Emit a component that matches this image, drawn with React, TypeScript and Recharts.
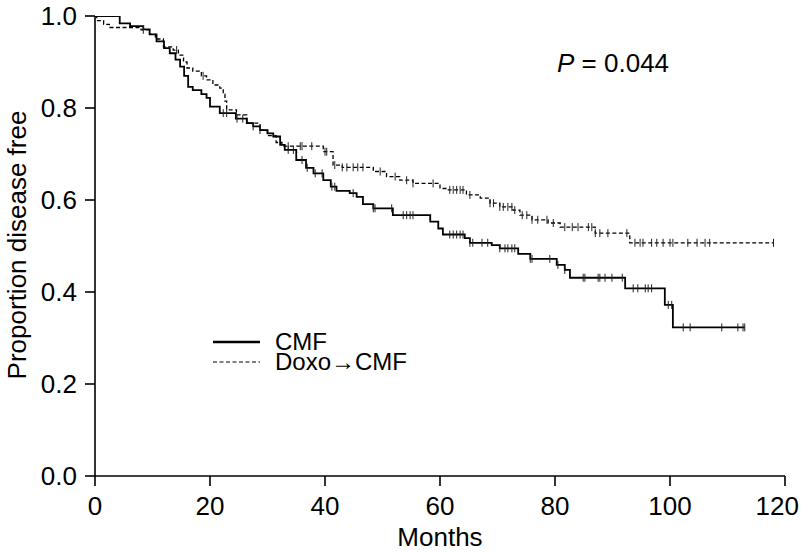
import React from 'react';
import { ComposedChart, Line, Scatter, XAxis, YAxis, Label } from 'recharts';

// CMF arm: Kaplan-Meier step points (months, proportion disease free)
const cmfTimes = [0, 4.3, 6.1, 8.4, 9.5, 10.7, 12, 13, 14, 14.8, 15.5, 16.2, 17, 18.5, 19.4, 20, 21.7, 24.5, 26.4, 27.5, 28.7, 30, 31, 32.2, 33, 35, 36.7, 38, 39.7, 41, 42, 44.3, 45.5, 46.6, 48.4, 51.8, 58.3, 59.7, 60.5, 64.3, 65.2, 69, 70.4, 73.6, 75.7, 80.3, 81.7, 82.6, 92.2, 99.1, 100.5, 113];
const cmfSurv = [1.0, 0.984, 0.978, 0.971, 0.96, 0.945, 0.93, 0.919, 0.905, 0.89, 0.87, 0.846, 0.839, 0.83, 0.822, 0.803, 0.789, 0.777, 0.767, 0.76, 0.752, 0.745, 0.738, 0.72, 0.709, 0.687, 0.67, 0.658, 0.643, 0.629, 0.62, 0.615, 0.607, 0.591, 0.582, 0.567, 0.553, 0.538, 0.525, 0.517, 0.507, 0.502, 0.495, 0.483, 0.472, 0.459, 0.448, 0.431, 0.408, 0.372, 0.323, 0.323];
const cmfCensor = [22.3, 22.9, 24.7, 25.7, 27.5, 28.7, 33.6, 34.5, 36, 36.9, 38.3, 39.5, 41.2, 41.7, 44.9, 48.4, 48.7, 51.6, 53.6, 54.2, 54.8, 55.3, 61.7, 62.3, 62.9, 63.5, 64, 65.2, 65.7, 67.3, 68.3, 70.4, 71.3, 71.8, 72.5, 73, 75.7, 76, 79.1, 80.5, 81.7, 84.9, 85.2, 87.5, 87.8, 88.7, 89.9, 91.7, 93.6, 94.4, 95.7, 96.2, 96.8, 99.7, 100.3, 102.3, 103.5, 109, 111.8, 112.7, 113];

// Doxo -> CMF arm
const doxoTimes = [0, 0.3, 1.5, 2.5, 8, 9.5, 10.5, 11.9, 13.6, 14.5, 15.4, 16, 17, 18.5, 19.4, 20.5, 21.7, 22.3, 22.6, 22.9, 24.6, 26.4, 28.7, 30, 31.5, 32.5, 39.7, 41.4, 43, 48.4, 50.7, 53, 55.3, 60, 61.2, 64.6, 67, 68.7, 70.4, 72.7, 73.9, 76, 78.8, 80.9, 87, 93, 118];
const doxoSurv = [1.0, 0.99, 0.982, 0.975, 0.97, 0.96, 0.95, 0.933, 0.926, 0.915, 0.9, 0.887, 0.88, 0.87, 0.861, 0.85, 0.843, 0.83, 0.815, 0.796, 0.785, 0.767, 0.752, 0.74, 0.725, 0.717, 0.705, 0.676, 0.671, 0.662, 0.651, 0.643, 0.636, 0.625, 0.622, 0.611, 0.604, 0.593, 0.585, 0.578, 0.567, 0.557, 0.55, 0.541, 0.528, 0.507, 0.507];
const doxoCensor = [8.4, 14.2, 18.8, 33.6, 35.7, 36, 37.7, 40, 40.3, 41.7, 43, 43.8, 44.9, 45.7, 46.6, 49.6, 52.2, 54.2, 55.3, 58.8, 61.7, 62.3, 62.9, 63.5, 64, 65.2, 68.7, 69.3, 70.4, 71, 71.8, 72.5, 73, 74.3, 75.1, 76, 77, 78.6, 79.7, 81.7, 83, 84, 85.8, 86.4, 87, 87.8, 89.2, 92.5, 93.9, 94.8, 95.3, 96.8, 97.7, 98.8, 100, 100.5, 103.1, 104.7, 106.1, 106.9, 118];

const seriesNames = ['CMF', 'Doxo\u2192CMF'];
const xTicks = [0, 20, 40, 60, 80, 100, 120];
const yTicks = [0, 0.2, 0.4, 0.6, 0.8, 1.0];
const pValueText = '0.044';

const FONT = '"Liberation Sans", Arial, Helvetica, sans-serif';

const toSteps = (times: number[], surv: number[]) => times.map((t, i) => ({ t, s: surv[i] }));
const survAt = (times: number[], surv: number[], t: number) => {
  let s = surv[0];
  for (let i = 0; i < times.length; i++) {
    if (times[i] <= t) s = surv[i];
  }
  return s;
};
const toCensor = (times: number[], surv: number[], c: number[]) =>
  c.map((t) => ({ t, s: survAt(times, surv, t) }));

const cmfData = toSteps(cmfTimes, cmfSurv);
const doxoData = toSteps(doxoTimes, doxoSurv);
const cmfCensorData = toCensor(cmfTimes, cmfSurv, cmfCensor);
const doxoCensorData = toCensor(doxoTimes, doxoSurv, doxoCensor);

const CensorTick = (props: any) => {
  const { cx, cy } = props;
  if (cx == null || cy == null) return null;
  return <line x1={cx} x2={cx} y1={cy - 4} y2={cy + 4} stroke="#222" strokeWidth={1} />;
};

const XTick = (props: any) => {
  const { x, y, payload } = props;
  const last = payload.value === xTicks[xTicks.length - 1];
  return (
    <text
      x={last ? x + 14 : x}
      y={y}
      dy="0.71em"
      textAnchor={last ? 'end' : 'middle'}
      fontSize={26}
      fontFamily={FONT}
      fill="#000"
    >
      {payload.value}
    </text>
  );
};

const LegendBox = () => (
  <div
    style={{
      position: 'absolute',
      left: 213,
      top: 332,
      fontFamily: FONT,
      fontSize: 24,
      color: '#000',
      lineHeight: '20px',
    }}
  >
    {seriesNames.map((name, i) => (
      <div key={name} style={{ display: 'flex', alignItems: 'center', height: 20, overflow: 'visible' }}>
        <svg width={50} height={20} style={{ display: 'block' }}>
          <line
            x1={0}
            x2={47}
            y1={10}
            y2={10}
            stroke="#000"
            strokeWidth={i === 0 ? 2.5 : 1.2}
            strokeDasharray={i === 0 ? undefined : '4 2.5'}
          />
        </svg>
        <span style={{ marginLeft: 12, display: 'inline-block', height: 20, lineHeight: '20px', whiteSpace: 'nowrap' }}>
          {name}
        </span>
      </div>
    ))}
  </div>
);

export default function App() {
  return (
    <div style={{ position: 'absolute', left: 0, top: 0, width: 802, height: 552, background: '#fff' }}>
      <ComposedChart width={802} height={552} margin={{ top: 16, right: 17, bottom: 0, left: 0 }}>
        <XAxis
          type="number"
          dataKey="t"
          domain={[0, 120]}
          ticks={xTicks}
          allowDataOverflow
          height={76}
          tickSize={10}
          tickMargin={11}
          axisLine={{ stroke: '#000', strokeWidth: 1.6 }}
          tickLine={{ stroke: '#000', strokeWidth: 1.6 }}
          tick={<XTick />}
        >
          <Label
            content={() => (
              <text x={440} y={546} textAnchor="middle" fontSize={26} fontFamily={FONT} fill="#000">
                Months
              </text>
            )}
          />
          <Label
            content={() => (
              <text x={557} y={72} fontSize={26} fontFamily={FONT} fill="#000">
                <tspan fontStyle="italic">P</tspan> = {pValueText}
              </text>
            )}
          />
        </XAxis>
        <YAxis
          type="number"
          dataKey="s"
          domain={[0, 1]}
          ticks={yTicks}
          allowDataOverflow
          width={95}
          tickSize={10}
          tickMargin={8}
          tickFormatter={(v: number) => v.toFixed(1)}
          axisLine={{ stroke: '#000', strokeWidth: 1.6 }}
          tickLine={{ stroke: '#000', strokeWidth: 1.6 }}
          tick={{ fill: '#000', fontSize: 26, fontFamily: FONT }}
        >
          <Label
            content={() => (
              <text
                x={0}
                y={0}
                transform="translate(26,245) rotate(-90)"
                textAnchor="middle"
                fontSize={26}
                fontFamily={FONT}
                fill="#000"
              >
                Proportion disease free
              </text>
            )}
          />
        </YAxis>
        <Line
          data={doxoData}
          dataKey="s"
          type="stepAfter"
          stroke="#000"
          strokeWidth={1.3}
          strokeDasharray="4 2.5"
          dot={false}
          activeDot={false}
          isAnimationActive={false}
          name={seriesNames[1]}
        />
        <Line
          data={cmfData}
          dataKey="s"
          type="stepAfter"
          stroke="#000"
          strokeWidth={1.8}
          dot={false}
          activeDot={false}
          isAnimationActive={false}
          name={seriesNames[0]}
        />
        <Scatter data={doxoCensorData} dataKey="s" shape={<CensorTick />} isAnimationActive={false} legendType="none" />
        <Scatter data={cmfCensorData} dataKey="s" shape={<CensorTick />} isAnimationActive={false} legendType="none" />
      </ComposedChart>
      <LegendBox />
    </div>
  );
}
